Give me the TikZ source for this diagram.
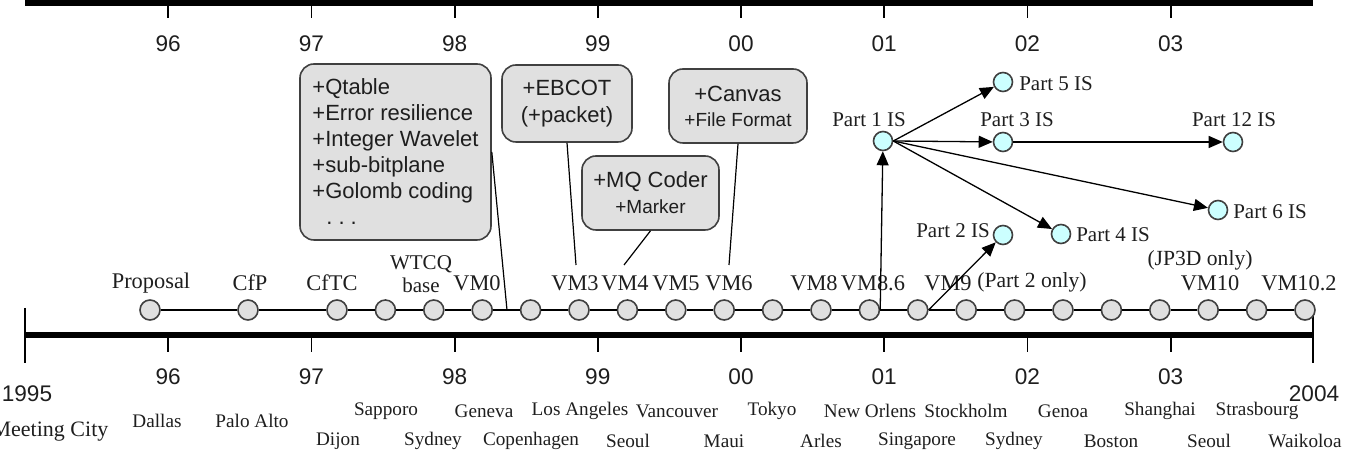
\documentclass[tikz,border=0pt]{standalone}
\usepackage{fontspec}
\setmainfont{Liberation Serif}
\setsansfont{Liberation Sans}
\usetikzlibrary{arrows.meta,calc}
\definecolor{boxfill}{HTML}{E0E0E0}
\definecolor{boxdraw}{HTML}{404040}
\definecolor{partfill}{HTML}{CCFFFF}
\definecolor{txt}{HTML}{1E1E1E}
\begin{document}
\begin{tikzpicture}[x=0.5pt,y=-0.5pt,
  axisline/.style={line width=3pt, black},
  yeartick/.style={line width=0.9pt, black},
  yearlab/.style={font=\sffamily\fontsize{11.3}{13}\selectfont, text=txt, inner sep=0pt},
  citylab/.style={font=\fontsize{9.6}{11}\selectfont, text=txt, inner sep=0pt},
  mslab/.style={font=\fontsize{11.2}{13}\selectfont, text=txt, inner sep=0pt},
  smalllab/.style={font=\fontsize{10.8}{12}\selectfont, text=txt, inner sep=0pt},
  partlab/.style={font=\fontsize{10.5}{12}\selectfont, text=txt, inner sep=0pt},
  msdot/.style={circle, draw=boxdraw, fill=boxfill, line width=0.8pt, minimum size=10pt, inner sep=0pt},
  partdot/.style={circle, draw=boxdraw, fill=partfill, line width=0.8pt, minimum size=9.5pt, inner sep=0pt},
  featbox/.style={draw=boxdraw, fill=boxfill, rounded corners=7pt, line width=0.8pt, inner sep=0pt, font=\sffamily\fontsize{11}{13}\selectfont, text=txt},
  arr/.style={-{Triangle[length=7pt,width=6pt]}, line width=0.65pt, black},
  link/.style={line width=0.6pt, black}
]
\useasboundingbox (0,0) rectangle (1350,453);

% axes
\draw[axisline] (25,3) -- (1313,3);
\draw[axisline] (25,335) -- (1313,335);
\draw[yeartick] (25,308) -- (25,363);
\draw[yeartick] (1313,310) -- (1313,363);
\foreach \i/\lab in {1/96,2/97,3/98,4/99,5/00,6/01,7/02,8/03}{
  \draw[yeartick] ({25+143.2*\i},3) -- ++(0,15);
  \draw[yeartick] ({25+143.2*\i},335) -- ++(0,17);
  \node[yearlab] (top\i) at ({25+143.2*\i},44) {\lab};
  \node[yearlab] (bot\i) at ({25+143.2*\i},377) {\lab};
}
\node[yearlab] (y1995) at (27,394) {1995};
\node[yearlab] (y2004) at (1314,394) {2004};

% milestone circles
\node[msdot] (c1) at (150,310) {};
\node[msdot] (c2) at (248,310) {};
\foreach \k in {3,...,23}{
  \node[msdot] (c\k) at ({337+48.4*(\k-3)},310) {};
}
\foreach \k [evaluate=\k as \n using int(\k+1)] in {1,...,22}{
  \draw[link] (c\k) -- (c\n);
}

% milestone labels
\node[mslab] (lProp) at (151,283) {Proposal};
\node[mslab] (lCfP) at (250,283) {CfP};
\node[mslab] (lCfTC) at (332,283) {CfTC};
\node[partlab, align=center, font=\fontsize{10.5}{11.5}\selectfont] (lWT) at (421,274) {WTCQ\\base};
\node[mslab] (lVM0) at (477,283) {VM0};
\node[mslab] (lVM3) at (575,283) {VM3};
\node[mslab] (lVM4) at (625,283) {VM4};
\node[mslab] (lVM5) at (676,283) {VM5};
\node[mslab] (lVM6) at (729,283) {VM6};
\node[mslab] (lVM8) at (814,283) {VM8};
\node[mslab] (lVM86) at (873,283) {VM8.6};
\node[mslab] (lVM9) at (948,283) {VM9};
\node[smalllab] (lP2o) at (1032,282) {(Part 2 only)};
\node[smalllab] (lJP) at (1200,260) {(JP3D only)};
\node[mslab] (lVM10) at (1210,283) {VM10};
\node[mslab] (lVM102) at (1299,283) {VM10.2};

% meeting cities
\node[mslab, font=\fontsize{11}{13}\selectfont] (mc) at (50,432) {Meeting City};
\node[citylab] at (157,421) {Dallas};
\node[citylab] at (252,421) {Palo Alto};
\foreach \x/\c in {386/Sapporo,484/Geneva,580/Los Angeles,677/Vancouver,772/Tokyo,870/New Orlens,966/Stockholm,1063/Genoa,1160/Shanghai,1257/Strasbourg}{
  \node[citylab] at (\x,411) {\c};
}
\foreach \x/\c in {338/Dijon,433/Sydney,531/Copenhagen,628/Seoul,724/Maui,821/Arles,917/Singapore,1014/Sydney,1111/Boston,1209/Seoul,1305/Waikoloa}{
  \node[citylab] at (\x,441) {\c};
}

% feature boxes
\coordinate (qend) at (507,310);
\coordinate (eend) at (576,265);
\coordinate (mend) at (624,265);
\coordinate (cend) at (729,265);
\node[featbox, minimum width=95.5pt, minimum height=88pt, align=left] (qbox) at (395.5,152)
  {+Qtable\\+Error resilience\\+Integer Wavelet\\+sub-bitplane\\+Golomb coding\\\hspace{7pt}.\hspace{3pt}.\hspace{3pt}.};
\node[featbox, minimum width=65pt, minimum height=38.5pt, align=center, font=\sffamily\fontsize{11}{13.5}\selectfont] (ebox) at (567,103.5)
  {+EBCOT\\(+packet)};
\node[featbox, minimum width=69pt, minimum height=37pt, align=center, font=\sffamily\fontsize{11}{12.5}\selectfont] (cbox) at (738,106)
  {+Canvas\\{\fontsize{9.5}{12.5}\selectfont +File Format}};
\node[featbox, minimum width=68.5pt, minimum height=37pt, align=center, font=\sffamily\fontsize{11}{13}\selectfont] (mbox) at (650.5,193)
  {+MQ Coder\\{\fontsize{9.5}{13}\selectfont +Marker}};
\draw[link] (qbox.east) -- (qend);
\draw[link] (ebox.south) -- (eend);
\draw[link] (mbox.south) -- (mend);
\draw[link] (cbox.south) -- (cend);

% parts
\node[partdot] (p1) at (883,141) {};
\node[partdot] (p5) at (1003,82) {};
\node[partdot] (p3) at (1003,142) {};
\node[partdot] (p12) at (1233,142) {};
\node[partdot] (p6) at (1218,210) {};
\node[partdot] (p4) at (1061,234) {};
\node[partdot] (p2) at (1003,235) {};
\node[partlab] at (869,120) {Part 1 IS};
\node[partlab] at (1056,84) {Part 5 IS};
\node[partlab] at (1017,120) {Part 3 IS};
\node[partlab] at (1234,120) {Part 12 IS};
\node[partlab] at (1270,212) {Part 6 IS};
\node[partlab] at (1113,235) {Part 4 IS};
\node[partlab] at (953,231) {Part 2 IS};

\draw[arr] (c14.east) -- (p1);
\draw[arr] (c15.east) -- (p2);
\draw[arr] (p1.east) -- (p5);
\draw[arr] (p1.east) -- (p3);
\draw[arr] (p1.east) -- (p4);
\draw[arr] (p1.east) -- (p6);
\draw[arr] (p3) -- (p12);
\end{tikzpicture}
\end{document}
